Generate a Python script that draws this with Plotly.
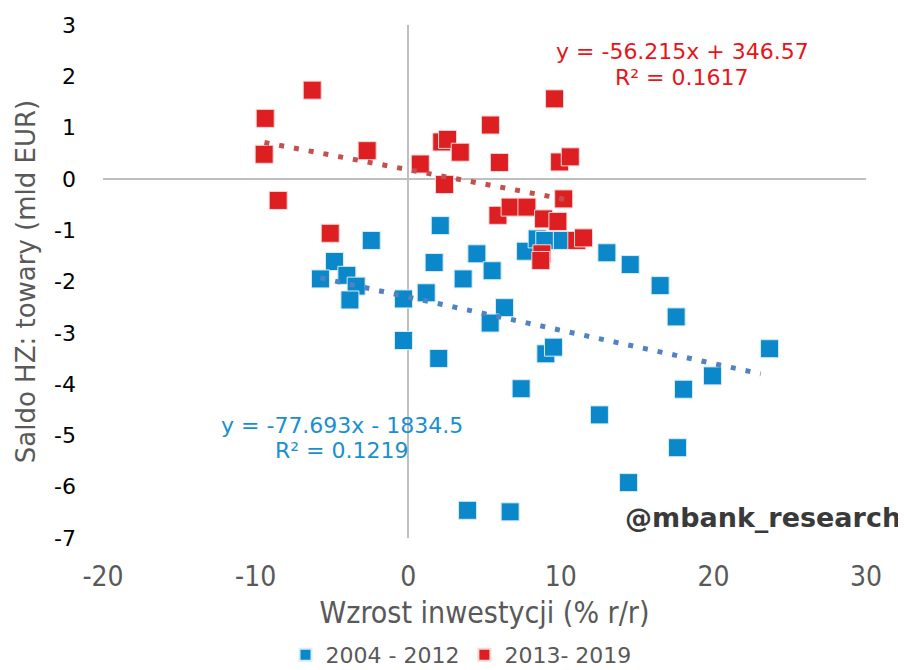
import plotly.graph_objects as go

# 2004 - 2012 (blue)
blue_x = [-2.42, -4.83, -5.75, -4.02, -3.41, -3.82, -0.31, 1.18, 2.10, 1.70, 3.60, 4.50,
          5.50, 6.31, 5.37, 7.69, 8.45, 8.95, 10.10, 13.02, 14.55, 16.51, 17.56, 9.02,
          9.52, 7.40, 12.53, 18.04, 19.94, 23.68, -0.31, 2.00, 17.65, 14.44, 3.89, 6.68]
blue_y = [-1.20, -1.61, -1.95, -1.88, -2.09, -2.36, -2.34, -2.22, -0.91, -1.63, -1.95, -1.46,
          -1.79, -2.51, -2.81, -1.41, -1.17, -1.20, -1.20, -1.44, -1.67, -2.08, -2.69, -3.41,
          -3.28, -4.09, -4.60, -4.10, -3.84, -3.31, -3.15, -3.50, -5.24, -5.92, -6.46, -6.49]

# 2013 - 2019 (red)
red_x = [-9.37, -9.44, -6.29, -8.52, -2.69, -5.11, 0.79, 2.20, 2.58, 3.41, 2.38, 5.39,
         5.98, 9.59, 9.92, 10.62, 10.19, 5.88, 6.68, 7.78, 8.87, 9.81, 11.05, 11.49, 8.76, 8.69]
red_y = [1.18, 0.48, 1.73, -0.42, 0.55, -1.06, 0.29, 0.72, 0.77, 0.52, -0.11, 1.05,
         0.32, 1.56, 0.33, 0.43, -0.39, -0.71, -0.55, -0.55, -0.78, -0.83, -1.20, -1.15, -1.46, -1.59]

# trendline endpoints
trend_blue_x = [-5.75, 23.1]
trend_blue_y = [-1.93, -3.80]
trend_red_x = [-9.42, 10.83]
trend_red_y = [0.71, -0.43]

series_names = ["2004 - 2012", "2013- 2019"]
eq_blue = ["y = -77.693x - 1834.5", "R² = 0.1219"]
eq_red = ["y = -56.215x + 346.57", "R² = 0.1617"]

x_ticks = [-20, -10, 0, 10, 20, 30]
y_ticks = [-7, -6, -5, -4, -3, -2, -1, 0, 1, 2, 3]

BLUE = "#0A88CA"
RED = "#DD1F22"
SANS = "DejaVu Sans, Verdana, sans-serif"
COND = "DejaVu Sans Condensed, Liberation Sans Narrow, sans-serif"

fig = go.Figure()
fig.add_trace(go.Scatter(x=blue_x, y=blue_y, mode="markers", name=series_names[0],
                         marker=dict(symbol="square", size=18, color=BLUE,
                                     line=dict(color="#D8ECF7", width=1))))
fig.add_trace(go.Scatter(x=red_x, y=red_y, mode="markers", name=series_names[1],
                         marker=dict(symbol="square", size=18, color=RED,
                                     line=dict(color="#F6D6D6", width=1))))
fig.add_trace(go.Scatter(x=trend_blue_x, y=trend_blue_y, mode="lines", showlegend=False,
                         line=dict(color="#5082C4", width=5, dash="5px,10px"), hoverinfo="skip"))
fig.add_trace(go.Scatter(x=trend_red_x, y=trend_red_y, mode="lines", showlegend=False,
                         line=dict(color="#C3504F", width=5, dash="5px,10px"), hoverinfo="skip"))

# page body has an 8px margin; the figure is placed at (8, 8) in the window
OFF = 8
W, H = 906 - OFF, 670 - OFF
L, T = 103 - OFF, 25 - OFF
R = W - (866 - OFF)
B = H - (538 - OFF)
pw, ph = W - L - R, H - T - B


def px(xp):
    return (xp - OFF - L) / pw


def py(yp):
    return 1 - (yp - OFF - T) / ph


annotations = [
    dict(x=682, y=51, text=eq_red[0], color="#E8141A"),
    dict(x=682, y=77, text=eq_red[1], color="#E8141A"),
    dict(x=342, y=425, text=eq_blue[0], color="#1A8FD0"),
    dict(x=342, y=450, text=eq_blue[1], color="#1A8FD0"),
]
for a in annotations:
    fig.add_annotation(x=px(a["x"]), y=py(a["y"]), xref="paper", yref="paper",
                       text=a["text"], showarrow=False, xanchor="center", yanchor="middle",
                       font=dict(family=SANS, size=22, color=a["color"]))
fig.add_annotation(x=px(903), y=py(517), xref="paper", yref="paper",
                   text="<b>@mbank_research</b>", showarrow=False, xanchor="right", yanchor="middle",
                   font=dict(family=SANS, size=27, color="#3A3A3A"))

fig.update_layout(
    width=W, height=H,
    margin=dict(l=L, r=R, t=T, b=B, autoexpand=False),
    plot_bgcolor="white", paper_bgcolor="white",
    showlegend=True,
    legend=dict(orientation="h", x=px(461), xanchor="center", y=py(655), yanchor="middle",
                font=dict(family=SANS, size=22, color="#595959"), itemsizing="constant",
                traceorder="normal", itemwidth=30),
    xaxis=dict(range=[-20, 30], tickvals=x_ticks, ticktext=[str(v) for v in x_ticks],
               showgrid=False, automargin=False,
               zeroline=True, zerolinecolor="#BFBFBF", zerolinewidth=2, showline=False,
               ticks="", ticklabelstandoff=19, tickfont=dict(family=COND, size=28, color="#595959"),
               title=dict(text="Wzrost inwestycji (% r/r)", standoff=9,
                          font=dict(family=COND, size=30, color="#595959"))),
    yaxis=dict(range=[-7, 3], tickvals=y_ticks, ticktext=[str(v) for v in y_ticks],
               showgrid=False, automargin=False,
               zeroline=True, zerolinecolor="#BFBFBF", zerolinewidth=2, showline=False,
               ticks="", ticklabelstandoff=26, tickfont=dict(family=SANS, size=22, color="#000000"),
               title=dict(text="Saldo HZ: towary (mld EUR)", standoff=10,
                          font=dict(family=SANS, size=26, color="#595959"))),
)
fig.write_html("out.html")
